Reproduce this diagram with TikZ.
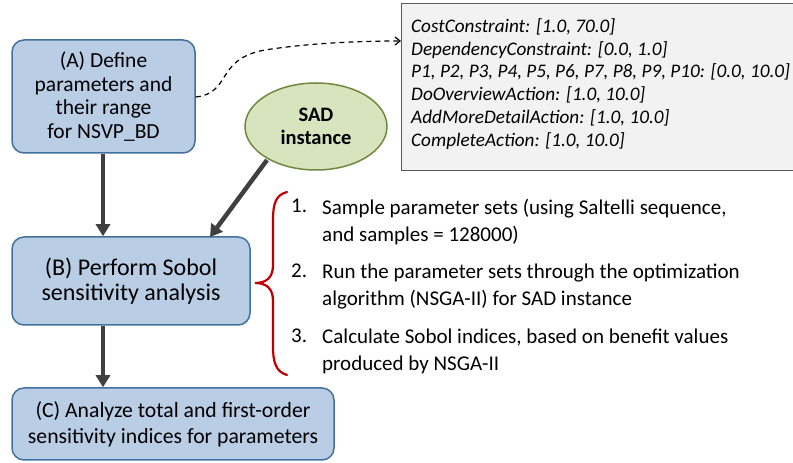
\documentclass[tikz,border=0pt]{standalone}
\usepackage{fontspec}
\setmainfont{Carlito}
\usetikzlibrary{arrows.meta,shapes.geometric}
\definecolor{boxfill}{HTML}{B9CDE5}
\definecolor{boxline}{HTML}{41719C}
\definecolor{ellfill}{HTML}{D7E4BD}
\definecolor{ellline}{HTML}{71893F}
\definecolor{grayfill}{HTML}{F2F2F2}
\definecolor{grayline}{HTML}{595959}
\definecolor{arrowgray}{HTML}{404040}
\definecolor{bracered}{HTML}{C00000}
\begin{document}
\begin{tikzpicture}[x=1pt,y=1pt,
  stepbox/.style={draw=boxline,fill=boxfill,line width=1.5pt,rounded corners=12pt,align=center,inner sep=0pt},
  bigarrow/.style={draw=arrowgray,line width=4.5pt,-{Triangle[length=12pt,width=14pt]}},
  listtext/.style={anchor=north west,align=left,inner sep=0pt,font=\fontsize{21}{27}\selectfont}
]
\useasboundingbox (0,0) rectangle (793,463);
% boxes
\node[stepbox,minimum width=183pt,minimum height=113pt,font=\fontsize{21.5}{23.5}\selectfont] (A) at (103.5,366.5)
  {(A) Define\\parameters and\\their range\\for NSVP\_BD};
\node[stepbox,minimum width=238pt,minimum height=88pt,font=\fontsize{24}{25}\selectfont] (B) at (131,182)
  {(B) Perform Sobol\\sensitivity analysis};
\node[stepbox,minimum width=322pt,minimum height=72pt,font=\fontsize{21.7}{26}\selectfont] (C) at (173,39)
  {(C) Analyze total and first-order\\sensitivity indices for parameters};
% ellipse
\node[ellipse,draw=ellline,fill=ellfill,line width=1.5pt,minimum width=142pt,minimum height=87pt,align=center,inner sep=0pt,font=\bfseries\fontsize{20.5}{23}\selectfont] (sad) at (316,336.5) {SAD\\instance};
% gray box
\node[draw=grayline,fill=grayfill,line width=1pt,anchor=north west,minimum width=400pt,minimum height=167pt,inner sep=0pt] (G) at (401,460) {};
\node[anchor=north west,align=left,inner sep=0pt,font=\itshape\fontsize{19.2}{22.7}\selectfont] (Gt) at (411,444.5)
  {CostConstraint: [1.0, 70.0]\\
   DependencyConstraint: [0.0, 1.0]\\
   P1, P2, P3, P4, P5, P6, P7, P8, P9, P10: [0.0, 10.0]\\
   DoOverviewAction: [1.0, 10.0]\\
   AddMoreDetailAction: [1.0, 10.0]\\
   CompleteAction: [1.0, 10.0]};
% dashed connector
\coordinate (Gin) at (G.west |- 0,422);
\draw[dashed,line width=1.2pt,dash pattern=on 5pt off 4pt,-{Straight Barb[length=5pt,width=8pt]}]
  (A.east |- 0,366) .. controls (232,370) and (215,404) .. (265,413)
  .. controls (310,420) and (360,422) .. (Gin);
% arrows
\draw[bigarrow] (A.south -| 103,0) -- (B.north -| 103,0);
\coordinate (sadout) at (267,303);
\coordinate (Bin) at (210,226);
\draw[bigarrow] (sadout) -- (Bin);
\draw[bigarrow] (B.south -| 103,0) -- (C.north -| 103,0);
% brace
\draw[bracered,line width=2.2pt,line cap=round]
  (287,271) .. controls (276,268) and (273,260) .. (273,243) -- (273,198)
  .. controls (273,185) and (266,180) .. (255,180)
  .. controls (266,180) and (273,175) .. (273,162) -- (273,116)
  .. controls (273,101) and (276,91) .. (287,88);
% list
\node[listtext] (n1) at (291,264) {1.};
\node[listtext] (t1) at (322,264) {Sample parameter sets (using Saltelli sequence,\\and samples = 128000)};
\node[listtext] (n2) at (291,199) {2.};
\node[listtext] (t2) at (322,199) {Run the parameter sets through the optimization\\algorithm (NSGA-II) for SAD instance};
\node[listtext] (n3) at (291,134) {3.};
\node[listtext] (t3) at (322,134) {Calculate Sobol indices, based on benefit values\\produced by NSGA-II};
\end{tikzpicture}
\end{document}
